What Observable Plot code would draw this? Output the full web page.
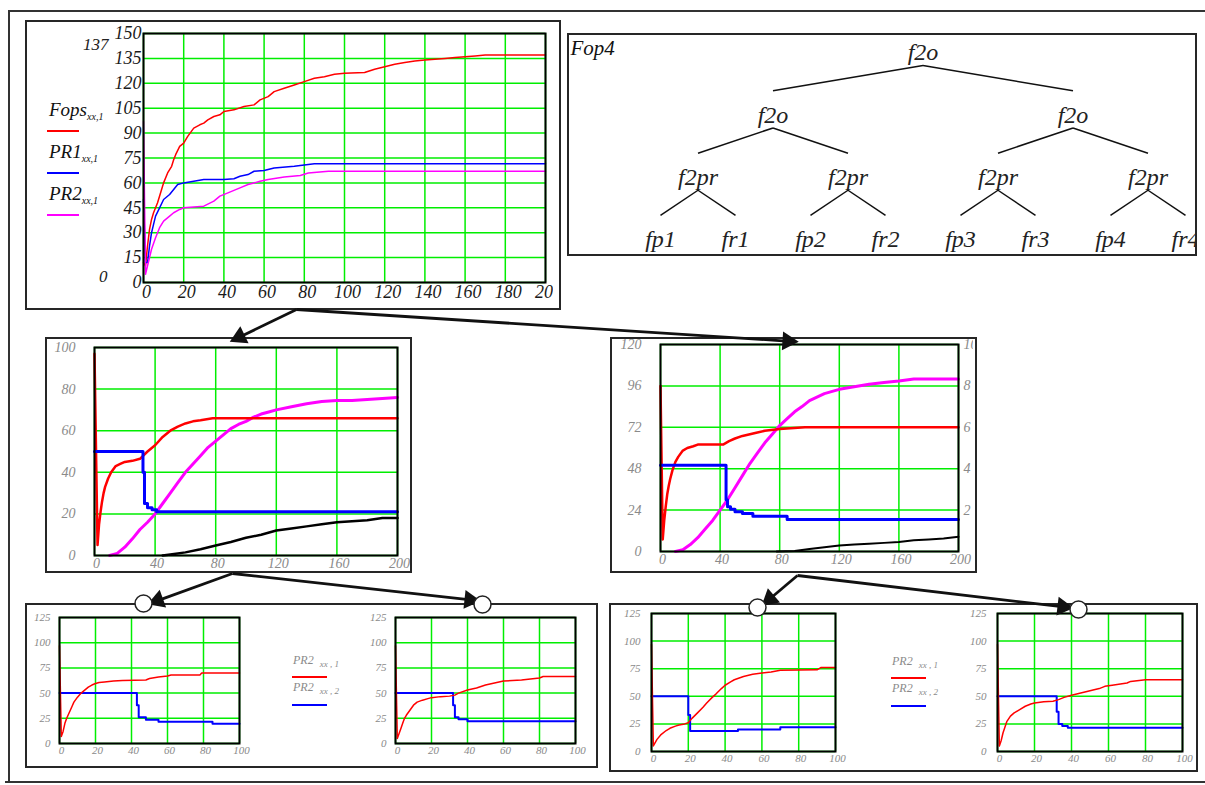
<!DOCTYPE html>
<html>
<head>
<meta charset="utf-8">
<script src="https://cdn.jsdelivr.net/npm/d3@7"></script>
<script src="https://cdn.jsdelivr.net/npm/@observablehq/plot@0.6"></script>
<style>
  body { margin: 0; background: #fff; }
  #page { position: relative; width: 1205px; height: 785px; overflow: hidden; font-family: "Liberation Serif", serif; }
  .box { position: absolute; border: 2px solid #262626; box-sizing: border-box; background: transparent; }
  .rule { position: absolute; background: #333; }
  .leg { position: absolute; font-style: italic; white-space: nowrap; line-height: 1; }
  .swatch { position: absolute; height: 2px; }
</style>
</head>
<body>
<div id="page"></div>
<script>
// ---------- data ----------
// Top chart: optimisation progress of the whole structure (x: generation, y: value)
const topXTicks = [0, 20, 40, 60, 80, 100, 120, 140, 160, 180, 200];
const topYTicks = [0, 15, 30, 45, 60, 75, 90, 105, 120, 135, 150];
const fopsX = [0,1,2,3,4,5,7,9,10,12,14,15,16,18,20,22,25,28,30,32,35,38,40,45,50,55,58,62,65,70,75,80,85,90,95,100,110,115,120,125,130,135,140,150,155,160,165,170,200];
const fopsY = [12,10,22,32,38,42,48,56,60,66,70,74,77,82,84,88,93,95,96,98,100,101,103,104,106,107,110,112,115,117,119,121,123,124,125.5,126,126.5,128.5,130,131.5,132.5,133.5,134,135,135.5,136,136.5,137,137];
const pr1X = [0,1,2,3,4,5,6,8,10,13,15,17,20,25,30,40,45,48,52,55,60,65,75,85,200];
const pr1Y = [50,12,12,22,30,35,40,45,50,53,56,59,60,61,62,62,62.5,64,65,67,67.5,69,70,71.5,71.5];
const pr2X = [0,1,2,3,4,6,8,10,13,15,18,20,25,30,35,38,42,48,52,58,62,70,78,82,92,200];
const pr2Y = [97,5,10,15,20,27,33,37,40,42,44,45,45.5,46,49,52,54,57,59,61,62,63.5,64.5,66,67,67];
const topSeries = ["Fops", "PR1", "PR2"];
const topMaxLabel = 137, topMinLabel = 0;

// Middle-left chart
const mXTicks = [0, 40, 80, 120, 160, 200];
const mlYTicks = [0, 20, 40, 60, 80, 100];
const mlRedX = [0,2,3,4,5,6,7,9,11,14,17,20,25,30,35,40,45,50,55,60,65,70,78,200];
const mlRedY = [97,5,15,21,26,30,33,37,40,43,44,45,45.5,46.5,50,53,57,60,62,63.5,64.5,65,66,66];
const mlBlueX = [0,32,33,35,38,41,200];
const mlBlueY = [50,40,25,23,22,21,21];
const mlMagX = [10,15,20,25,30,35,40,45,50,55,60,65,70,75,80,85,90,95,100,105,110,115,120,130,140,150,160,170,180,190,200];
const mlMagY = [0,1,4,8,12.5,16,20,25,30,35,40,44,48,52,55,58,61,63,64.5,66.5,68,69,70,71.5,73,74,74.5,74.5,75,75.5,76];
const mlBlackX = [45,50,60,70,80,90,100,110,120,130,140,150,160,170,180,190,200];
const mlBlackY = [0,0.5,1.5,3,4.8,6.5,8.5,10,12,13,14,15,16,16.5,17,18,18];

// Middle-right chart (right-hand axis 0..10 shares the 0..120 scale)
const mrYTicks = [0, 24, 48, 72, 96, 120];
const mrRightTicks = [2, 4, 6, 8, 10];
const mrRightMax = 10;
const mrRedX = [0,1.5,2.5,3.5,4.5,5.5,6.5,8,10,12,15,18,22,25,42,46,50,55,60,65,70,80,97,200];
const mrRedY = [96,7,18,26,33,38,42,47,52,55,58.5,60,61,62,62,64,65.5,67,68,69,70,71,72,72];
const mrBlueX = [0,44,45,47,50,55,62,85,200];
const mrBlueY = [50,30,26,24.5,23,22,20.5,18.5,18.5];
const mrMagX = [10,15,20,25,30,35,40,45,50,55,60,65,70,75,80,85,90,95,100,110,120,130,140,150,160,170,200];
const mrMagY = [0,1,4,8,13,18,24,30,37,44,51,57,63,68,73,77,81,84,87.5,91.5,94,95.5,97,98,98.8,100,100];
const mrBlackX = [78,90,100,110,120,130,140,150,160,170,180,190,200];
const mrBlackY = [0,0.3,1.5,2.5,3.5,4,4.5,5,5.5,6.5,7,7.5,8.5];

// Bottom row: four sub-problems, PR2 columns 1 and 2
const bXTicks = [0, 20, 40, 60, 80, 100];
const bYTicks = [0, 25, 50, 75, 100, 125];
const bl1RedX = [0,1,2,3,4,5,6,7,8,10,12,14,16,18,20,22,25,30,35,48,50,55,60,62,78,79,100];
const bl1RedY = [97,7,12,20,25,29,33,37,41,46,50,53,56,58,59.5,60.5,61,62,62.5,63,64.5,66,67,68,68,70,70];
const bl1BlueX = [0,43,44,48,55,85,100];
const bl1BlueY = [50,38,26,23.5,21.5,19.5,19.5];
const bl2RedX = [0,1,2,3,4,5,6,8,10,12,15,18,20,25,30,33,35,40,45,50,55,60,70,80,82,100];
const bl2RedY = [97,5,10,15,20,25,28,33,38,41,43,44.5,45.5,46.5,47,48,50,53,55,58,60,62,63,65,66.5,66.5];
const bl2BlueX = [0,32,33,35,40,100];
const bl2BlueY = [50,38,26,24,22,22];
const br1RedX = [0,1,2,3,5,8,10,13,15,18,20,22,25,28,30,33,35,38,40,43,45,50,55,60,65,70,90,92,100];
const br1RedY = [97,5,8,11,15,19,21,23,24,25,26,30,35,40,44,49,52,57,60,63,65,68,70,71,72,73.5,74,76,76];
const br1BlueX = [0,20,21,47,70,100];
const br1BlueY = [50,33,18.5,20,22,22];
const br2RedX = [0,1,2,3,4,5,7,9,12,15,18,20,25,30,33,36,40,45,50,55,58,62,70,72,80,100];
const br2RedY = [97,5,10,17,22,27,32,35,38,41,43,44,45,45.5,47,49,51,53,55,57,59,60,62,63.5,65,65];
const br2BlueX = [0,32,33,35,38,100];
const br2BlueY = [50,36,25,23,21.5,21.5];
const bottomSeries = ["PR2", "PR2"];
const bottomSubs = ["xx , 1", "xx , 2"];

// Operator tree of Fop4
const treeTitle = "Fop4";
const treeLevels = [
  ["f2o"],
  ["f2o", "f2o"],
  ["f2pr", "f2pr", "f2pr", "f2pr"],
  ["fp1", "fr1", "fp2", "fr2", "fp3", "fr3", "fp4", "fr4"]
];

// ---------- styles & layout ----------
const RED = "#ff0000", BLUE = "#0000ff", MAG = "#ff00ff", BLACK = "#000000", GREEN = "#00ee00";
const SERIF = "Liberation Serif, Times New Roman, serif";
const page = document.getElementById("page");

const pts = (xs, ys) => xs.map((x, i) => ({x, y: ys[i]}));

function place(el, left, top, z = 1) {
  el.style.position = "absolute";
  el.style.left = left + "px";
  el.style.top = top + "px";
  el.style.zIndex = z;
  page.appendChild(el);
  return el;
}

function box(l, t, r, b) {
  const d = document.createElement("div");
  d.className = "box";
  d.style.width = (r - l) + "px";
  d.style.height = (b - t) + "px";
  place(d, l, t, 5);
}

function rule(l, t, w, h) {
  const d = document.createElement("div");
  d.className = "rule";
  d.style.width = w + "px";
  d.style.height = h + "px";
  place(d, l, t, 6);
}

// Blue columns change in discrete jumps; the other series are drawn as traces
function panel(o) {
  const marks = [
    Plot.gridX({ticks: o.xTicks, stroke: GREEN, strokeOpacity: 1, strokeWidth: o.gridW ?? 1.5}),
    Plot.gridY({ticks: o.yTicks, stroke: GREEN, strokeOpacity: 1, strokeWidth: o.gridW ?? 1.5}),
    Plot.axisX({ticks: o.xTicks, tickSize: 0, tickPadding: o.padX, label: null, dx: o.dxX ?? 2}),
    Plot.axisY({ticks: o.yTicks, tickSize: 0, tickPadding: o.padY, label: null}),
    ...(o.extraMarks || []),
    ...o.series.map(s => Plot.line(s.data, {x: "x", y: "y", stroke: s.color, strokeWidth: s.width, curve: s.step ? "step-after" : "linear"})),
    Plot.frame({stroke: "#000", strokeWidth: o.frameW ?? 2})
  ];
  const svg = Plot.plot({
    width: o.width, height: o.height,
    marginLeft: o.ml, marginRight: o.mr, marginTop: o.mt, marginBottom: o.mb,
    x: {domain: o.xDomain, label: null},
    y: {domain: o.yDomain, label: null},
    style: {fontFamily: SERIF, fontStyle: "italic", fontSize: o.fontSize + "px", color: o.labelColor, background: "white"},
    marks
  });
  place(svg, o.left, o.top, 2);
}

// ---------- outer frame ----------
rule(9, 10, 1196, 2);
rule(8, 10, 2, 773);
rule(5, 781, 1200, 2);

// ---------- top chart ----------
panel({
  left: 27, top: 22, width: 526, height: 286, ml: 116, mr: 8, mt: 11, mb: 26,
  xDomain: [0, 200], yDomain: [0, 150], xTicks: topXTicks, yTicks: topYTicks,
  fontSize: 18, labelColor: "#1a1a1a", padX: 3, padY: 2, dxX: 3,
  series: [
    {data: pts(fopsX, fopsY), color: RED, width: 1.5},
    {data: pts(pr1X, pr1Y), color: BLUE, width: 1.5},
    {data: pts(pr2X, pr2Y), color: MAG, width: 1.5}
  ]
});
box(25, 20, 561, 310);

function legText(html, left, top, size, color, z = 7) {
  const d = document.createElement("div");
  d.className = "leg";
  d.style.fontSize = size + "px";
  d.style.color = color;
  d.innerHTML = html;
  place(d, left, top, z);
}
function swatch(left, top, w, color, h = 2) {
  const d = document.createElement("div");
  d.className = "swatch";
  d.style.width = w + "px";
  d.style.height = h + "px";
  d.style.background = color;
  place(d, left, top, 7);
}
const topColors = [RED, BLUE, MAG];
topSeries.forEach((name, i) => {
  legText(`${name}<span style="font-size:10px;position:relative;top:4px">xx,1</span>`, 49, 100 + i * 42, 19, "#111");
  swatch(47, 130 + i * 42, 32, topColors[i]);
});
legText(String(topMaxLabel), 83, 36, 17, "#222");
legText(String(topMinLabel), 99, 268, 17, "#222");

// ---------- operator tree ----------
(function () {
  const depthMax = treeLevels.length - 1;
  const posByLevel = [];
  posByLevel[depthMax] = treeLevels[depthMax].map((_, i) => i);
  for (let d = depthMax - 1; d >= 0; d--) {
    posByLevel[d] = treeLevels[d].map((_, i) => (posByLevel[d + 1][2 * i] + posByLevel[d + 1][2 * i + 1]) / 2);
  }
  const nodes = [], links = [];
  treeLevels.forEach((names, d) => names.forEach((name, i) => {
    nodes.push({name, x: posByLevel[d][i], depth: d});
    if (d < depthMax) {
      for (const c of [2 * i, 2 * i + 1]) {
        links.push({x1: posByLevel[d][i], d1: d, x2: posByLevel[d + 1][c], d2: d + 1});
      }
    }
  }));
  const svg = Plot.plot({
    width: 630, height: 223, margin: 0,
    x: {domain: [-1.24, 7.16], range: [0, 630], axis: null},
    y: {domain: [-0.305, 3.273], range: [0, 223], axis: null},
    style: {fontFamily: SERIF, fontStyle: "italic", background: "white", color: "#222"},
    marks: [
      // edges leave just below the parent label and stop just above the child label
      Plot.link(links, {x1: "x1", x2: "x2", y1: d => d.d1 + 0.21, y2: d => d.d2 - 0.385, stroke: "#111", strokeWidth: 1.5}),
      Plot.text(nodes, {x: "x", y: "depth", text: "name", fontSize: 24, fill: "#222"}),
      Plot.text([treeTitle], {frameAnchor: "top-left", dx: 3, dy: 7, fontSize: 21, fill: "#111"})
    ]
  });
  place(svg, 567, 33, 2);
})();
box(567, 33, 1197, 256);

// ---------- middle row ----------
panel({
  left: 47, top: 339, width: 363, height: 232, ml: 47, mr: 13, mt: 8, mb: 16,
  xDomain: [0, 200], yDomain: [0, 100], xTicks: mXTicks, yTicks: mlYTicks,
  fontSize: 14, labelColor: "#8a8a8a", padX: 3, padY: 19,
  series: [
    {data: pts(mlBlackX, mlBlackY), color: BLACK, width: 2.5},
    {data: pts(mlMagX, mlMagY), color: MAG, width: 3},
    {data: pts(mlRedX, mlRedY), color: RED, width: 2.5},
    {data: pts(mlBlueX, mlBlueY), color: BLUE, width: 3, step: true}
  ]
});
box(45, 337, 412, 573);

const mrRatio = mrYTicks[mrYTicks.length - 1] / mrRightMax;
panel({
  left: 612, top: 338, width: 361, height: 233, ml: 48, mr: 15, mt: 6, mb: 20,
  xDomain: [0, 200], yDomain: [0, 120], xTicks: mXTicks, yTicks: mrYTicks,
  fontSize: 14, labelColor: "#8a8a8a", padX: 3, padY: 19,
  extraMarks: [
    Plot.axisY({anchor: "right", ticks: mrRightTicks.map(t => t * mrRatio), tickFormat: d => d / mrRatio, tickSize: 0, tickPadding: 5, label: null})
  ],
  series: [
    {data: pts(mrBlackX, mrBlackY), color: BLACK, width: 2},
    {data: pts(mrMagX, mrMagY), color: MAG, width: 3},
    {data: pts(mrRedX, mrRedY), color: RED, width: 2.5},
    {data: pts(mrBlueX, mrBlueY), color: BLUE, width: 3, step: true}
  ]
});
box(610, 337, 977, 573);

// ---------- bottom row ----------
const bottomCommon = {xDomain: [0, 100], yDomain: [0, 125], xTicks: bXTicks, yTicks: bYTicks, fontSize: 11, labelColor: "#8a8a8a", padX: 3, gridW: 1.5};
panel({...bottomCommon, left: 27, top: 605, width: 230, height: 161, ml: 32, mr: 18, mt: 12, mb: 23, padY: 9,
  series: [{data: pts(bl1BlueX, bl1BlueY), color: BLUE, width: 2, step: true}, {data: pts(bl1RedX, bl1RedY), color: RED, width: 1.5}]});
panel({...bottomCommon, left: 360, top: 605, width: 232, height: 161, ml: 35, mr: 17, mt: 12, mb: 23, padY: 9,
  series: [{data: pts(bl2BlueX, bl2BlueY), color: BLUE, width: 2, step: true}, {data: pts(bl2RedX, bl2RedY), color: RED, width: 1.5}]});
panel({...bottomCommon, left: 611, top: 605, width: 240, height: 165, ml: 40, mr: 16, mt: 8, mb: 19, padY: 11,
  series: [{data: pts(br1BlueX, br1BlueY), color: BLUE, width: 2, step: true}, {data: pts(br1RedX, br1RedY), color: RED, width: 1.5}]});
panel({...bottomCommon, left: 957, top: 605, width: 240, height: 165, ml: 40, mr: 15, mt: 8, mb: 19, padY: 11,
  series: [{data: pts(br2BlueX, br2BlueY), color: BLUE, width: 2, step: true}, {data: pts(br2RedX, br2RedY), color: RED, width: 1.5}]});
box(25, 603, 598, 768);
box(609, 603, 1198, 772);

const bottomColors = [RED, BLUE];
[[292, 654], [891, 655]].forEach(([lx, ty]) => {
  bottomSeries.forEach((name, i) => {
    legText(`${name}&nbsp;&nbsp;<span style="font-size:9px;position:relative;top:3px">${bottomSubs[i]}</span>`, lx + 1, ty + i * 27, 12, "#8a8a8a");
    swatch(lx, ty + 22 + i * 28, 35, bottomColors[i]);
  });
});

// ---------- connectors between panels ----------
const connectors = [
  {x1: 296, y1: 309, x2: 234, y2: 339},
  {x1: 296, y1: 309, x2: 793, y2: 341},
  {x1: 232, y1: 573, x2: 152, y2: 602},
  {x1: 232, y1: 573, x2: 475, y2: 600},
  {x1: 797, y1: 575, x2: 765, y2: 602},
  {x1: 797, y1: 575, x2: 1068, y2: 607}
];
const junctions = [{x: 143, y: 603}, {x: 482, y: 604}, {x: 757, y: 607}, {x: 1078, y: 609}];
const headSize = 7;
const unit = c => { const dx = c.x2 - c.x1, dy = c.y2 - c.y1, l = Math.hypot(dx, dy); return [dx / l, dy / l]; };
const overlay = Plot.plot({
  width: 1205, height: 785, margin: 0,
  x: {domain: [0, 1205], range: [0, 1205], axis: null},
  y: {domain: [0, 785], range: [0, 785], axis: null},
  style: {background: "transparent", pointerEvents: "none"},
  marks: [
    Plot.link(connectors, {
      x1: "x1", y1: "y1",
      x2: c => c.x2 - unit(c)[0] * headSize, y2: c => c.y2 - unit(c)[1] * headSize,
      stroke: "#111", strokeWidth: 2.8
    }),
    // solid arrow heads, rotated along each connector
    Plot.dot(connectors, {
      x: c => c.x2 - unit(c)[0] * headSize * 0.8, y: c => c.y2 - unit(c)[1] * headSize * 0.8,
      symbol: "triangle", r: headSize, fill: "#111", stroke: "none",
      rotate: c => Math.atan2(unit(c)[0], -unit(c)[1]) * 180 / Math.PI
    }),
    Plot.dot(junctions, {x: "x", y: "y", r: 8.5, fill: "white", stroke: "#222", strokeWidth: 1.5})
  ]
});
place(overlay, 0, 0, 10);
</script>
</body>
</html>
